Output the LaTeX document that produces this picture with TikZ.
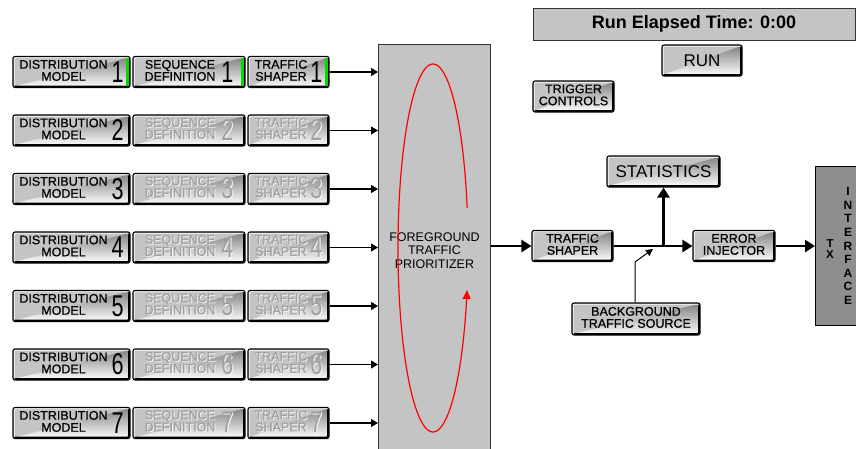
\documentclass[tikz,border=0pt]{standalone}
\usepackage{fontspec}
\setmainfont{Liberation Sans}
\newfontfamily\uifont{Liberation Sans}[FakeBold=0.6]
\usetikzlibrary{arrows.meta}

\definecolor{face}{HTML}{C4C4C4}
\definecolor{dim}{HTML}{A0A0A0}
\definecolor{lit}{HTML}{00DC00}
\definecolor{txface}{HTML}{8E8E8E}
\definecolor{shade}{HTML}{7A7A7A}

% disabled captions get a white engraved highlight
\newif\ifdimmed
\newcommand\emb[1]{\ifdimmed\rlap{\kern0.9pt\raisebox{-0.9pt}{\color{white!85!face}#1}}\fi#1}
% two stacked caption lines, vertically centred on the axis
\newcommand\twoline[2]{$\vcenter{\hbox{\emb{\begin{tabular}{@{}c@{}}#1\\#2\end{tabular}}}}$}
% large, thin channel number beside a caption
\newcommand\bignum[1]{$\vcenter{\hbox{\normalfont\fontsize{30}{30}\selectfont\emb{\scalebox{0.72}[1]{#1}}}}$}

\tikzset{
  every node/.style={font=\uifont\fontsize{12.5}{11}\selectfont},
  btn/.style={draw=black, line width=1.1pt, fill=face, rounded corners=2pt,
    minimum height=31pt, inner sep=0pt,
    path picture={
      \draw[shade, line width=1.6pt]
        ([shift={(1pt,1pt)}]path picture bounding box.south west) --
        ([shift={(-1pt,1pt)}]path picture bounding box.south east) --
        ([shift={(-1pt,-1pt)}]path picture bounding box.north east);
      \draw[white!90!face, line width=1pt]
        ([shift={(1pt,1pt)}]path picture bounding box.south west) --
        ([shift={(1pt,-1pt)}]path picture bounding box.north west) --
        ([shift={(-1pt,-1pt)}]path picture bounding box.north east);
    }},
  panel/.style={draw=black!80, line width=0.9pt, fill=face, inner sep=0pt},
  feed/.style={line width=1.1pt, -{Triangle[length=7pt,width=8pt]}},
  trunk/.style={line width=2.8pt, -{Triangle[length=10pt,width=12pt]}},
  loop/.style={red, line width=1.2pt, -{Triangle[length=9pt,width=8pt]}},
}

\begin{document}
\begin{tikzpicture}[x=1pt, y=-1pt]
\useasboundingbox (0,0) rectangle (856,448);

% foreground traffic prioritizer
\node[panel, anchor=north west, minimum width=112pt, minimum height=412pt,
      align=center, font=\fontsize{12.5}{13.5}\selectfont] (fp) at (378,44)
  {FOREGROUND\\TRAFFIC\\PRIORITIZER};
\draw[loop] plot[smooth, domain=-12.6:-346.8, samples=120]
  ({433+35*cos(\x)}, {248+184*sin(\x)});

% seven foreground channels
\foreach \i in {1,...,7} {
  \pgfmathsetmacro\yy{72+58.5*(\i-1)}
  \ifnum\i=1 \def\chcol{black}\def\chset{\dimmedfalse}\else\def\chcol{dim}\def\chset{\dimmedtrue}\fi
  \node[btn, minimum width=117pt] (dm\i) at (71.5,\yy)
    {\dimmedfalse\twoline{DISTRIBUTION}{MODEL}\hspace{4pt}\bignum{\i}};
  \node[btn, minimum width=112pt, text=\chcol] (sd\i) at (189,\yy)
    {\chset\twoline{SEQUENCE}{DEFINITION}\hspace{6pt}\bignum{\i}};
  \node[btn, minimum width=81pt, text=\chcol] (ts\i) at (288.5,\yy)
    {\chset\twoline{TRAFFIC}{SHAPER}\hspace{3pt}\bignum{\i}};
  \draw[feed] (ts\i.east) -- (ts\i.east -| fp.west);
  \ifnum\i=1
    \foreach \b in {dm1,sd1,ts1}
      \fill[lit] ([shift={(-4.2pt,-2.5pt)}]\b.north east)
        rectangle ([shift={(-1.4pt,2.5pt)}]\b.south east);
  \fi
}

% run controls
\node[panel, minimum width=322pt, minimum height=32pt,
      font=\fontsize{18}{18}\selectfont\bfseries] (clock) at (694,24)
  {Run Elapsed Time: 0:00};
\node[btn, minimum width=80pt, font=\fontsize{17}{17}\selectfont] (run) at (702,60.5) {RUN};
\node[btn, minimum width=81pt] (trig) at (573.5,96.5) {\twoline{TRIGGER}{CONTROLS}};

% output path
\node[btn, minimum width=81pt] (tsr) at (572.5,246) {\twoline{TRAFFIC}{SHAPER}};
\node[btn, minimum width=82pt] (ei) at (734,246) {\twoline{ERROR}{INJECTOR}};
\node[btn, minimum width=113pt, font=\fontsize{17}{17}\selectfont] (stat) at (663.5,171.5) {STATISTICS};
\node[btn, minimum width=128pt, minimum height=32pt] (bts) at (636,319)
  {\twoline{BACKGROUND}{TRAFFIC SOURCE}};
\node[draw=black, line width=1.1pt, fill=txface, anchor=north west,
      minimum width=60pt, minimum height=159pt, inner sep=0pt] (tx) at (815,166) {};
\node[font=\fontsize{11.5}{10.5}\selectfont\bfseries, align=center, inner sep=0pt] (txa) at (830,249) {T\\X};
\node[font=\fontsize{12}{13.6}\selectfont\bfseries, align=center, inner sep=0pt] (txb) at (848,246)
  {I\\N\\T\\E\\R\\F\\A\\C\\E};

\coordinate (j) at (663.5,246);
\coordinate (bend) at (635,262);
\coordinate (merge) at (653,249);

\draw[trunk] (fp.east |- tsr.west) -- (tsr.west);
\draw[trunk] (tsr.east) -- (ei.west);
\draw[trunk] (j) -- (stat.south);
\draw[trunk] (ei.east) -- (ei.east -| tx.west);
\draw[line width=1pt, -{Triangle[length=7pt,width=7pt]}]
  (bts.north -| bend) -- (bend) -- (merge);
\end{tikzpicture}
\end{document}
